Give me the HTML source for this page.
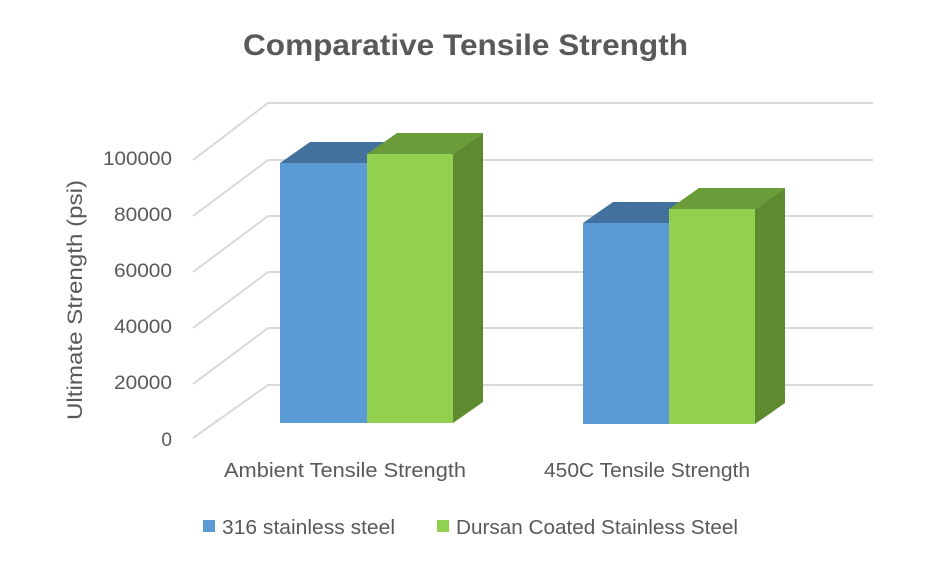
<!DOCTYPE html>
<html><head><style>
body{margin:0;background:#fff;}
svg text{font-family:"Liberation Sans",sans-serif;fill:#595959;}
</style></head><body>
<svg width="933" height="563" viewBox="0 0 933 563" xmlns="http://www.w3.org/2000/svg">
<rect width="933" height="563" fill="#fff"/>
<text x="243" y="55" font-size="30" font-weight="bold" textLength="445" lengthAdjust="spacingAndGlyphs">Comparative Tensile Strength</text>
<g stroke="#d9d9d9" stroke-width="2" fill="none">
<polyline points="193,160 268,103 873,103"/>
<polyline points="193,216 268,160 873,160"/>
<polyline points="193,272 268,216 873,216"/>
<polyline points="193,328 268,272 873,272"/>
<polyline points="193,384 268,328 873,328"/>
<polyline points="193,438 268,385 873,385"/>
</g>
<g font-size="19" text-anchor="end">
<text x="172" y="165" textLength="69" lengthAdjust="spacingAndGlyphs">100000</text>
<text x="172" y="221" textLength="58" lengthAdjust="spacingAndGlyphs">80000</text>
<text x="172" y="277" textLength="58" lengthAdjust="spacingAndGlyphs">60000</text>
<text x="172" y="333" textLength="58" lengthAdjust="spacingAndGlyphs">40000</text>
<text x="172" y="389" textLength="58" lengthAdjust="spacingAndGlyphs">20000</text>
<text x="172" y="446">0</text>
</g>
<text transform="translate(82,300) rotate(-90)" text-anchor="middle" font-size="21" textLength="240" lengthAdjust="spacingAndGlyphs">Ultimate Strength (psi)</text>
<polygon points="280,163 310,142 397,142 367,163" fill="#41719c"/>
<rect x="280" y="163" width="87" height="260" fill="#5b9bd5"/>
<polygon points="367,154 397,133 483,133 453,154" fill="#6a9c3a"/>
<polygon points="453,154 483,133 483,402 453,423" fill="#5e8a30"/>
<rect x="367" y="154" width="86" height="269" fill="#92d050"/>
<polygon points="583,223 613,202 699,202 669,223" fill="#41719c"/>
<rect x="583" y="223" width="86" height="201" fill="#5b9bd5"/>
<polygon points="669,209 699,188 785,188 755,209" fill="#6a9c3a"/>
<polygon points="755,209 785,188 785,403 755,424" fill="#5e8a30"/>
<rect x="669" y="209" width="86" height="215" fill="#92d050"/>
<g font-size="20">
<text x="224" y="477" textLength="242" lengthAdjust="spacingAndGlyphs">Ambient Tensile Strength</text>
<text x="544" y="477" textLength="206" lengthAdjust="spacingAndGlyphs">450C Tensile Strength</text>
</g>
<rect x="203" y="520" width="12" height="12" fill="#5b9bd5"/>
<text x="222" y="534" font-size="20" textLength="173" lengthAdjust="spacingAndGlyphs">316 stainless steel</text>
<rect x="437" y="520" width="12" height="12" fill="#92d050"/>
<text x="456" y="534" font-size="20" textLength="282" lengthAdjust="spacingAndGlyphs">Dursan Coated Stainless Steel</text>
</svg>
</body></html>
